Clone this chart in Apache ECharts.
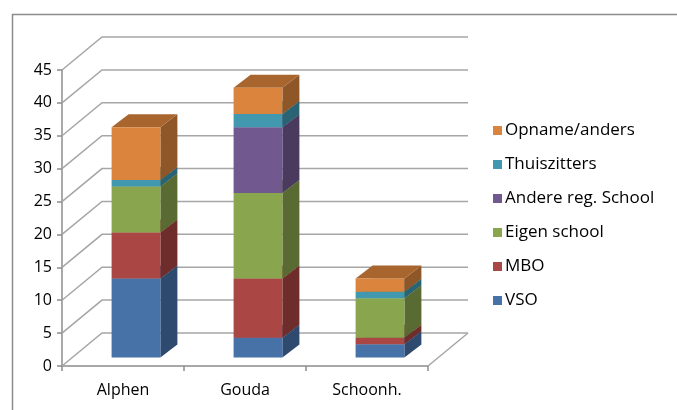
<!DOCTYPE html>
<html>
<head>
<meta charset="utf-8">
<script src="https://cdn.jsdelivr.net/npm/echarts@6/dist/echarts.min.js"></script>
<style>
  html, body { margin: 0; padding: 0; background: #fff; }
  #chart { width: 677px; height: 410px; }
</style>
</head>
<body>
<div id="chart"></div>
<script>
  // data
  const categories = ['Alphen', 'Gouda', 'Schoonh.'];
  const vso = [12, 3, 2];
  const mbo = [7, 9, 1];
  const eigenSchool = [7, 13, 6];
  const andereRegSchool = [0, 10, 0];
  const thuiszitters = [1, 2, 1];
  const opnameAnders = [8, 4, 2];
  const yTicks = [0, 5, 10, 15, 20, 25, 30, 35, 40, 45];

  const layers = [
    { name: 'VSO', values: vso, front: '#4672a8', side: '#2e4a6f', top: '#3a5f8c' },
    { name: 'MBO', values: mbo, front: '#aa4643', side: '#6e2c2b', top: '#8d3a37' },
    { name: 'Eigen school', values: eigenSchool, front: '#89a54e', side: '#596b33', top: '#728a41' },
    { name: 'Andere reg. School', values: andereRegSchool, front: '#71588f', side: '#4a3a5e', top: '#5e4977' },
    { name: 'Thuiszitters', values: thuiszitters, front: '#4198af', side: '#2a6373', top: '#367f92' },
    { name: 'Opname/anders', values: opnameAnders, front: '#db843d', side: '#8f5628', top: '#a8652e' }
  ];

  // 3d offsets (px)
  const wallDx = 40, wallDy = -33;
  const barDx = 13, barDy = -8.5;
  const depthDx = 17, depthDy = -13;
  const gridColor = '#a6a6a6';
  const axisColor = '#8c8c8c';
  const font = 'Open Sans';

  // stack
  const base = categories.map(() => 0);
  const series = layers.map((l) => {
    const data = categories.map((c, i) => {
      const b = base[i];
      base[i] += l.values[i];
      return [i, b, base[i]];
    });
    return {
      type: 'custom',
      name: l.name,
      itemStyle: { color: l.front },
      data: data,
      z: 3,
      renderItem: function (params, api) {
        const lo = api.value(1), hi = api.value(2);
        if (hi <= lo) return null;
        const p0 = api.coord([api.value(0), lo]);
        const p1 = api.coord([api.value(0), hi]);
        const w = api.size([1, 0])[0] * 0.4;
        const x0 = p0[0] - w / 2 + barDx, x1 = x0 + w;
        const yb = p0[1] + barDy, yt = p1[1] + barDy;
        return {
          type: 'group',
          children: [
            { type: 'polygon', shape: { points: [[x1, yb], [x1 + depthDx, yb + depthDy], [x1 + depthDx, yt + depthDy], [x1, yt]] }, style: { fill: l.side } },
            { type: 'polygon', shape: { points: [[x0, yt], [x0 + depthDx, yt + depthDy], [x1 + depthDx, yt + depthDy], [x1, yt]] }, style: { fill: l.top } },
            { type: 'rect', shape: { x: x0, y: yt, width: w, height: yb - yt }, style: { fill: l.front } }
          ]
        };
      }
    };
  });

  // walls: back wall lines, left wall diagonals, floor
  series.unshift({
    type: 'custom',
    silent: true,
    data: yTicks.map((v) => [0, v]),
    z: 1,
    renderItem: function (params, api) {
      const v = api.value(1);
      const cw = api.size([1, 0])[0];
      const pL = api.coord([0, v]);
      const pR = api.coord([categories.length - 1, v]);
      const xl = pL[0] - cw / 2, xr = pR[0] + cw / 2, y = pL[1];
      const kids = [
        { type: 'polyline', shape: { points: [[xl, y], [xl + wallDx, y + wallDy], [xr + wallDx, y + wallDy]] }, style: { stroke: gridColor, lineWidth: 1.5, fill: null } }
      ];
      if (v === 0) {
        kids.push({ type: 'line', shape: { x1: xr, y1: y, x2: xr + wallDx, y2: y + wallDy }, style: { stroke: gridColor, lineWidth: 1.5 } });
      }
      return { type: 'group', children: kids };
    }
  });

  const chart = echarts.init(document.getElementById('chart'));
  chart.setOption({
    animation: false,
    textStyle: { fontFamily: font },
    graphic: [{
      type: 'rect', left: 10, top: 12, shape: { width: 700, height: 420 },
      style: { fill: null, stroke: '#8c8c8c', lineWidth: 1.5 }, z: -10
    }],
    grid: { left: 62, right: 249, top: 70, bottom: 44 },
    legend: {
      orient: 'vertical',
      left: 488,
      top: 117,
      itemGap: 17,
      itemWidth: 9,
      itemHeight: 9,
      icon: 'rect',
      data: ['Opname/anders', 'Thuiszitters', 'Andere reg. School', 'Eigen school', 'MBO', 'VSO'],
      textStyle: { fontSize: 17, lineHeight: 16, color: '#000', fontFamily: font, padding: [0, 0, 0, -2] }
    },
    xAxis: {
      type: 'category',
      data: categories,
      axisLine: { lineStyle: { color: axisColor, width: 1.5 } },
      axisTick: { show: true, length: 5, lineStyle: { color: axisColor, width: 1.5 } },
      axisLabel: { color: '#000', fontSize: 16, margin: 16, fontFamily: font },
      splitLine: { show: false }
    },
    yAxis: {
      type: 'value',
      min: 0,
      max: 45,
      interval: 5,
      axisLine: { show: true, lineStyle: { color: axisColor, width: 1.5 } },
      axisTick: { show: true, length: 5, lineStyle: { color: axisColor, width: 1.5 } },
      axisLabel: { color: '#000', fontSize: 16, margin: 10, fontFamily: font },
      splitLine: { show: false }
    },
    series: series
  });
</script>
</body>
</html>
